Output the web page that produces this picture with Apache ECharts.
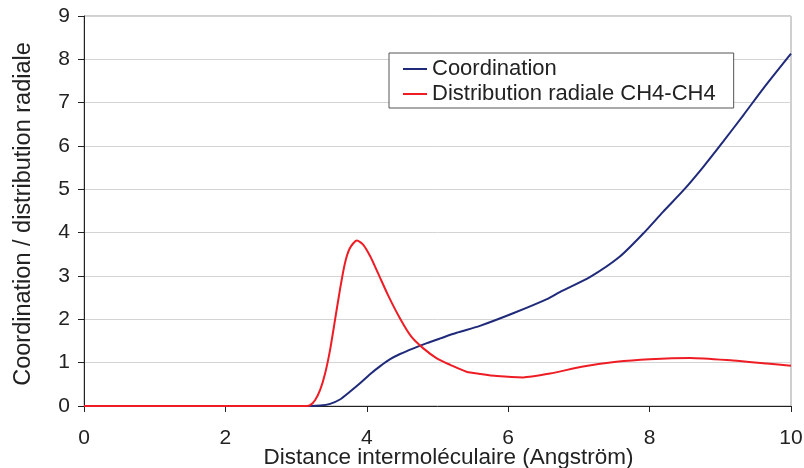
<!DOCTYPE html>
<html><head><meta charset="utf-8">
<script src="https://cdn.jsdelivr.net/npm/echarts@6/dist/echarts.min.js"></script>
<style>html,body{margin:0;padding:0;background:#fff}#c{width:804px;height:468px}</style>
</head><body><div id="c"></div>
<script>
var coordX = [0, 3.2, 3.34, 3.48, 3.62, 3.76, 3.90, 4.05, 4.19, 4.33, 4.47, 4.66, 4.85, 5.04, 5.27, 5.60, 6.07, 6.54, 6.73, 7.16, 7.58, 7.91, 8.19, 8.48, 8.76, 9.04, 9.33, 9.61, 10];
var coordY = [0, 0, 0.01, 0.05, 0.15, 0.33, 0.52, 0.74, 0.92, 1.08, 1.2, 1.33, 1.45, 1.56, 1.69, 1.85, 2.14, 2.46, 2.63, 2.98, 3.45, 3.98, 4.48, 4.98, 5.52, 6.10, 6.72, 7.33, 8.13];
var rdfX = [0, 3.0, 3.15, 3.20, 3.27, 3.34, 3.41, 3.48, 3.55, 3.62, 3.69, 3.76, 3.86, 3.95, 4.05, 4.16, 4.30, 4.47, 4.63, 4.80, 4.99, 5.18, 5.41, 5.60, 5.84, 6.21, 6.59, 7.06, 7.53, 8.0, 8.57, 9.18, 9.66, 10];
var rdfY = [0, 0, 0, 0.02, 0.14, 0.37, 0.75, 1.29, 1.98, 2.68, 3.29, 3.64, 3.82, 3.72, 3.45, 3.06, 2.56, 2.02, 1.60, 1.33, 1.10, 0.95, 0.79, 0.74, 0.69, 0.66, 0.75, 0.91, 1.02, 1.08, 1.11, 1.05, 0.98, 0.93];
var xTicks = [0, 2, 4, 6, 8, 10];
var yTicks = [0, 1, 2, 3, 4, 5, 6, 7, 8, 9];
var names = ['Coordination', 'Distribution radiale CH4-CH4'];

function zip(a, b) { return a.map(function (v, i) { return [v, b[i]]; }); }
var font = 'Liberation Sans, Arial, sans-serif';
var chart = echarts.init(document.getElementById('c'), null, {renderer: 'canvas'});
chart.setOption({
  animation: false,
  grid: {left: 84, right: 13, top: 16, bottom: 62, outerBoundsMode: 'none', containLabel: false,
         show: true, borderColor: '#a0a0a0', borderWidth: 1, backgroundColor: '#fff'},
  legend: {
    orient: 'vertical', left: 389, top: 53,
    backgroundColor: '#fff', borderColor: '#555', borderWidth: 1,
    padding: [5, 18, 3, 14], itemGap: 3, itemWidth: 24, itemHeight: 2, icon: 'rect',
    textStyle: {fontFamily: font, fontSize: 22, color: '#222', padding: [0, 0, 0, 0]},
    data: names
  },
  xAxis: {
    type: 'value', min: xTicks[0], max: xTicks[xTicks.length - 1], interval: 2,
    name: 'Distance intermoléculaire (Angström)', nameLocation: 'middle', nameGap: 40, nameMoveOverlap: false,
    nameTextStyle: {fontFamily: font, fontSize: 22.5, color: '#222', padding: [0, 0, 0, 22]},
    axisLine: {show: true, lineStyle: {color: '#222', width: 1}},
    axisTick: {show: true, length: 6, lineStyle: {color: '#222'}},
    axisLabel: {fontFamily: font, fontSize: 21, color: '#222', margin: 22},
    splitLine: {show: false}
  },
  yAxis: {
    type: 'value', min: yTicks[0], max: yTicks[yTicks.length - 1], interval: 1,
    name: 'Coordination / distribution radiale', nameLocation: 'middle', nameGap: 48, nameMoveOverlap: false,
    nameTextStyle: {fontFamily: font, fontSize: 23.5, color: '#222', padding: [0, 6, 0, 0]},
    axisLine: {show: true, lineStyle: {color: '#222', width: 1}},
    axisTick: {show: true, length: 6, lineStyle: {color: '#222'}},
    axisLabel: {fontFamily: font, fontSize: 21, color: '#222', margin: 14},
    splitLine: {show: true, lineStyle: {color: '#d4d4d4', width: 1}}
  },
  series: [
    {name: names[0], type: 'line', data: zip(coordX, coordY), symbol: 'none', smooth: 0.25,
     lineStyle: {color: '#1f2a7a', width: 2}, itemStyle: {color: '#1f2a7a'}, z: 2},
    {name: names[1], type: 'line', data: zip(rdfX, rdfY), symbol: 'none', smooth: 0.25,
     lineStyle: {color: '#ee1c24', width: 2}, itemStyle: {color: '#ee1c24'}, z: 3}
  ]
});
</script></body></html>
